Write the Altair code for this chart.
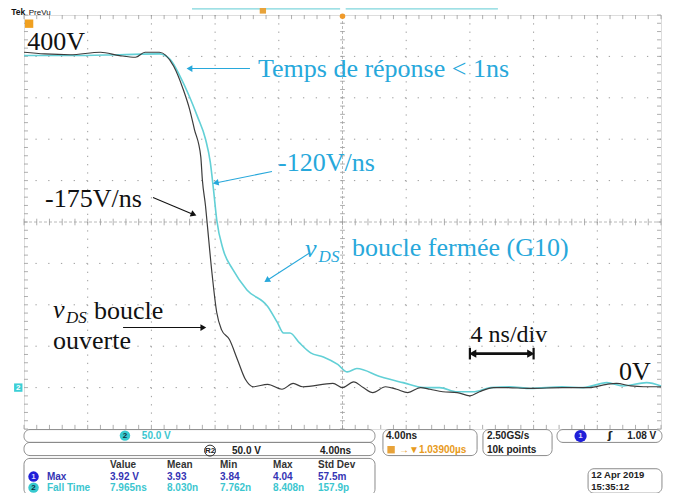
import math
import numpy as np
import pandas as pd
import altair as alt

# ---------------- data (t in ns, v in volts) ----------------
t_open = [0.0, 1.3, 2.9, 4.8, 6.0, 7.0, 7.6, 8.5, 9.4, 10.0, 10.4, 10.7, 11.1, 11.2, 11.4,
          11.5, 11.8, 12.1, 12.4, 12.9, 13.4, 13.9, 14.4, 15.3, 16.2, 16.9, 17.5, 19.4,
          20.0, 20.7, 21.3, 21.9, 22.7, 23.4, 24.1, 24.9, 25.5, 26.3, 27.2, 28.0, 28.6,
          29.5, 30.3, 31.8, 33.8, 35.5, 36.6, 37.2, 38.1, 38.9, 40.0]
v_open = [405, 403, 402, 405, 401, 399, 405, 405, 388, 360, 336, 312, 279, 251, 219,
          199, 139, 91, 70, 58, 34, 10, 1, 4, -2, 5, 1, 5,
          0, 7, 0, -6, 1, -2, -6, 0, -2, -5, -6, -10, -5,
          0, 0, -1, 0, 0, 4, 5, 2, 1, 1]

t_closed = [0.0, 2.9, 6.0, 8.5, 9.2, 9.8, 10.4, 10.9, 11.4, 11.7, 11.9, 12.1, 12.5, 13.1,
            14.0, 15.3, 15.9, 16.3, 16.7, 17.3, 18.0, 18.8, 19.7, 20.3, 20.9, 22.4, 23.8,
            25.1, 26.1, 27.2, 28.2, 29.3, 30.5, 31.8, 33.8, 35.1, 36.6, 37.6, 39.1, 40.0]
v_closed = [401, 401, 402, 403, 396, 376, 351, 327, 300, 272, 239, 203, 167, 143,
            118, 98, 79, 66, 66, 54, 42, 37, 28, 19, 23, 13, 6,
            0, 0, -5, -5, 0, 1, -1, 1, 0, 6, 2, 6, 2]

meas_headers = ["Value", "Mean", "Min", "Max", "Std Dev"]
meas_max = ["3.92 V", "3.93", "3.84", "4.04", "57.5m"]
meas_fall = ["7.965ns", "8.030n", "7.762n", "8.408n", "157.9p"]

# ---------------- scales ----------------
T0, T1 = 0, 40          # 10 div x 4 ns
V0, V1 = -50, 450       # 10 div x 50 V
PX_T = 637 / (T1 - T0)
PX_V = 414 / (V1 - V0)
xs = alt.Scale(domain=[T0, T1], nice=False, zero=False)
ys = alt.Scale(domain=[V0, V1], nice=False, zero=False)


def X(f="t"):
    return alt.X(f, type="quantitative", scale=xs, axis=None)


def Y(f="v"):
    return alt.Y(f, type="quantitative", scale=ys, axis=None)


def rules(rows, **kw):
    df = pd.DataFrame(rows, columns=["t", "t2", "v", "v2"])
    return alt.Chart(df).mark_rule(**kw).encode(x=X("t"), x2="t2", y=Y("v"), y2="v2")


def texts(rows, **kw):
    df = pd.DataFrame(rows, columns=["label", "t", "v"])
    return alt.Chart(df).mark_text(**kw).encode(x=X("t"), y=Y("v"), text="label:N")


def heads(rows, color, size=60):
    # rows: (t_from, v_from, t_to, v_to) -> triangle at the 'to' end
    out = []
    for a, b, c, d in rows:
        dx = (c - a) * PX_T
        dy = -(d - b) * PX_V
        ang = math.degrees(math.atan2(dx, -dy)) % 360
        out.append((c, d, ang))
    df = pd.DataFrame(out, columns=["t", "v", "ang"])
    return alt.Chart(df).mark_point(shape="triangle", filled=True, color=color, size=size, opacity=1).encode(
        x=X("t"), y=Y("v"), angle=alt.Angle("ang:Q", scale=None))


layers = []

# ---------------- graticule ----------------
grid_t = [4, 8, 12, 16, 24, 28, 32, 36]
grid_v = [0, 50, 100, 150, 250, 300, 350, 400]
layers.append(alt.Chart(pd.DataFrame({"t": grid_t})).mark_rule(
    color="#9c9c9c", strokeWidth=1, strokeDash=[1.3, 6.98]).encode(x=X("t")))
layers.append(alt.Chart(pd.DataFrame({"v": grid_v})).mark_rule(
    color="#9c9c9c", strokeWidth=1, strokeDash=[1.3, 11.44]).encode(y=Y("v")))
# centre cross
layers.append(rules([(20, 20, V0, V1), (T0, T1, 200, 200)], color="#a8a8a8", strokeWidth=0.8,
                    strokeDash=[3, 2]))
minor_t = np.round(np.arange(T0, T1 + 0.01, 0.8), 2)
minor_v = np.round(np.arange(V0, V1 + 0.01, 10), 2)
tick_rows = []
for t in minor_t:
    tick_rows.append((t, t, 196, 204))
    tick_rows.append((t, t, V1, V1 - 5))
    tick_rows.append((t, t, V0, V0 + 5))
for v in minor_v:
    tick_rows.append((19.85, 20.15, v, v))
    tick_rows.append((T0, T0 + 0.25, v, v))
    tick_rows.append((T1 - 0.25, T1, v, v))
layers.append(rules(tick_rows, color="#9a9a9a", strokeWidth=0.8))

# ---------------- traces ----------------
df_open = pd.DataFrame({"t": t_open, "v": v_open})
df_closed = pd.DataFrame({"t": t_closed, "v": v_closed})
layers.append(alt.Chart(df_closed).mark_line(color="#62d0d6", strokeWidth=1.6, interpolate="monotone").encode(
    x=X("t"), y=Y("v"), order="t:Q"))
layers.append(alt.Chart(df_open).mark_line(color="#3c3c3c", strokeWidth=1.2, interpolate="monotone").encode(
    x=X("t"), y=Y("v"), order="t:Q"))

# ---------------- annotations ----------------
CY = "#27a8db"
SERIF = "Liberation Serif"
layers.append(texts([("400V", 0.2, 408), ("-175V/ns", 1.32, 218.6), ("boucle", 4.4, 83.3),
                     ("ouverte", 1.82, 47.1), ("0V", 37.36, 9.7)],
                    font=SERIF, fontSize=26, color="#111", align="left", baseline="alphabetic"))
layers.append(texts([("4 ns/div", 30.45, 55.6)], font=SERIF, fontSize=24, color="#111",
                    align="center", baseline="alphabetic"))
layers.append(texts([("v", 1.82, 84.5)], font=SERIF, fontSize=26, fontStyle="italic", color="#111",
                    align="left", baseline="alphabetic"))
layers.append(texts([("DS", 2.64, 78.5)], font=SERIF, fontSize=17, fontStyle="italic", color="#111",
                    align="left", baseline="alphabetic"))
layers.append(texts([("Temps de réponse < 1ns", 14.69, 375.6), ("-120V/ns", 15.95, 262),
                     ("boucle fermée (G10)", 20.6, 159.4)],
                    font=SERIF, fontSize=26, color=CY, align="left", baseline="alphabetic"))
layers.append(texts([("v", 17.65, 158.2)], font=SERIF, fontSize=26, fontStyle="italic", color=CY,
                    align="left", baseline="alphabetic"))
layers.append(texts([("DS", 18.5, 152.2)], font=SERIF, fontSize=17, fontStyle="italic", color=CY,
                    align="left", baseline="alphabetic"))

cy_arrows = [(14.19, 385.3, 10.45, 385.3), (15.57, 260.9, 12.1, 247.5), (17.96, 163, 15.3, 130)]
bk_arrows = [(8.10, 229.5, 10.6, 209.5), (6.22, 72.5, 11.2, 72.5)]
layers.append(rules([(a, c, b, d) for a, b, c, d in cy_arrows], color=CY, strokeWidth=1.1))
layers.append(heads(cy_arrows, CY, 45))
layers.append(rules([(a, c, b, d) for a, b, c, d in bk_arrows], color="#111", strokeWidth=1.1))
layers.append(heads(bk_arrows, "#111", 45))
# 4 ns/div double arrow
layers.append(rules([(28.25, 31.75, 41, 41)], color="#111", strokeWidth=2.6))
layers.append(rules([(28.0, 28.0, 34, 48), (32.0, 32.0, 34, 48)], color="#111", strokeWidth=2.2))
dbl = [(30, 41, 28.25, 41), (30, 41, 31.75, 41)]
layers.append(heads(dbl, "#111", 70))

# ---------------- top bar ----------------
SANS = "Liberation Sans"
layers.append(texts([("Tek", -0.8, 450.4)], font=SANS, fontSize=8.5, fontWeight="bold", color="#111",
                    align="left", baseline="alphabetic"))
layers.append(texts([("PreVu", 0.3, 450.4)], font=SANS, fontSize=8, color="#111",
                    align="left", baseline="alphabetic"))
layers.append(rules([(10.55, 19.85, 457.5, 457.5), (20.2, 29.76, 457.5, 457.5)], color="#7fd6dc", strokeWidth=1.3))
layers.append(alt.Chart(pd.DataFrame({"t": [15.0], "v": [455.5]})).mark_square(
    color="#e8a33a", size=40, opacity=1).encode(x=X("t"), y=Y("v")))
layers.append(alt.Chart(pd.DataFrame({"t": [20.0], "v": [448.5]})).mark_point(
    shape="circle", filled=True, color="#f09a2a", size=30, opacity=1).encode(x=X("t"), y=Y("v")))
layers.append(alt.Chart(pd.DataFrame({"t": [0.32], "v": [439.5]})).mark_square(
    color="#f0a020", size=70, opacity=1).encode(x=X("t"), y=Y("v")))
layers.append(alt.Chart(pd.DataFrame({"t": [-0.36], "v": [0]})).mark_square(
    color="#3ccfd6", size=70, opacity=1).encode(x=X("t"), y=Y("v")))
layers.append(texts([("2", -0.36, 0)], font=SANS, fontSize=8, fontWeight="bold", color="#ffffff",
                    align="center", baseline="middle"))

# ---------------- bottom readout panels ----------------
boxes = [(0, 22.04, -50.7, -66.2), (0, 22.04, -66.2, -82.1), (0, 22.04, -85.5, -130),
         (22.54, 28.45, -50.7, -82.1), (28.82, 33.16, -50.7, -82.1), (33.47, 40.06, -50.7, -66.2),
         (35.42, 40.06, -98.0, -127.5)]
df_boxes = pd.DataFrame(boxes, columns=["t", "t2", "v", "v2"])
layers.append(alt.Chart(df_boxes).mark_rect(filled=False, stroke="#8a8a8a", strokeWidth=1, cornerRadius=6).encode(
    x=X("t"), x2="t2", y=Y("v"), y2="v2"))

col_t = [5.40, 8.98, 12.31, 15.64, 18.46]
RO = dict(font=SANS, fontSize=10, fontWeight="bold", align="left", baseline="middle")
layers.append(texts([(h, t, -93.0) for h, t in zip(meas_headers, col_t)], color="#333", **RO))
layers.append(texts([(h, t, -107.5) for h, t in zip(meas_max, col_t)] + [("Max", 1.44, -107.5)],
                    color="#3434b4", **RO))
layers.append(texts([(h, t, -120.8) for h, t in zip(meas_fall, col_t)] + [("Fall Time", 1.44, -120.8)],
                    color="#3cc6cf", **RO))
# channel badges
badges = pd.DataFrame({"t": [0.6, 0.6, 6.34], "v": [-107.5, -120.8, -58.0],
                       "c": ["#1f1fd8", "#36c9cf", "#36c9cf"]})
layers.append(alt.Chart(badges).mark_point(shape="circle", filled=True, size=110, opacity=1).encode(
    x=X("t"), y=Y("v"), color=alt.Color("c:N", scale=None)))
layers.append(texts([("1", 0.6, -107.5)], font=SANS, fontSize=8, fontWeight="bold", color="#d8d8ff",
                    align="center", baseline="middle"))
layers.append(texts([("2", 0.6, -120.8), ("2", 6.34, -58.0)], font=SANS, fontSize=8, fontWeight="bold",
                    color="#103040", align="center", baseline="middle"))
layers.append(texts([("50.0 V", 7.4, -58.0)], color="#3cc6cf", **RO))
layers.append(texts([("50.0 V", 13.06, -76.1), ("4.00ns", 18.59, -76.1), ("4.00ns", 22.73, -59.0),
                     ("2.50GS/s", 29.07, -59.0), ("10k points", 29.07, -75.0)], color="#222", **RO))
layers.append(texts([("1.08 V", 39.7, -59.0)], font=SANS, fontSize=10, fontWeight="bold", color="#222",
                    align="right", baseline="middle"))
layers.append(texts([("12 Apr 2019", 35.62, -105.5), ("15:35:12", 35.62, -119.5)], font=SANS, fontSize=9.5,
                    fontWeight="bold", color="#222", align="left", baseline="middle"))
# R2 badge
layers.append(alt.Chart(pd.DataFrame({"t": [11.68], "v": [-76.1]})).mark_point(
    shape="circle", filled=False, stroke="#333", strokeWidth=1, size=120, opacity=1).encode(x=X("t"), y=Y("v")))
layers.append(texts([("R2", 11.68, -76.1)], font=SANS, fontSize=8, fontWeight="bold", color="#222",
                    align="center", baseline="middle"))
# trigger time with orange marker
layers.append(alt.Chart(pd.DataFrame({"t": [23.05], "v": [-75.0]})).mark_square(
    color="#e8a33a", size=55, opacity=1).encode(x=X("t"), y=Y("v")))
layers.append(texts([("→▼1.03900µs", 23.55, -75.0)], font=SANS, fontSize=10, fontWeight="bold",
                    color="#e89a20", align="left", baseline="middle"))
# trigger source badge and slope
layers.append(alt.Chart(pd.DataFrame({"t": [34.95], "v": [-58.5]})).mark_point(
    shape="circle", filled=True, color="#1f1fd8", size=150, opacity=1).encode(x=X("t"), y=Y("v")))
layers.append(texts([("1", 34.95, -58.5)], font=SANS, fontSize=8, fontWeight="bold", color="#d8d8ff",
                    align="center", baseline="middle"))
layers.append(texts([("ʃ", 36.8, -58.5)], font="DejaVu Sans", fontSize=11, fontWeight="bold",
                    color="#222", align="center", baseline="middle"))

chart = alt.layer(*layers).properties(
    width=637, height=414,
    padding={"left": 16, "top": 7, "right": 4, "bottom": 64},
    autosize=alt.AutoSizeParams(type="none"),
).configure_view(stroke="#8c8c8c", strokeWidth=1.2).configure(background="white")

chart.save("out.html", embed_options={"renderer": "svg", "actions": False})
